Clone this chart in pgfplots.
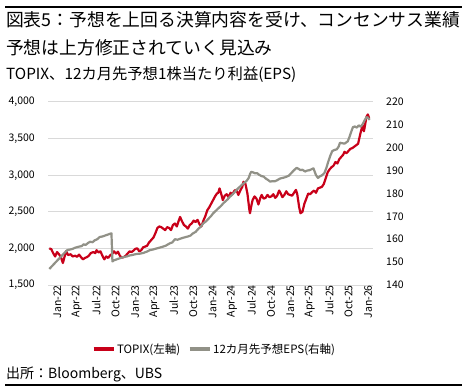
\documentclass[border=0pt]{standalone}
\usepackage{fontspec}
\setmainfont{Noto Sans CJK JP}
\usepackage{pgfplots}
\usepackage{pgfplotstable}
\pgfplotsset{compat=1.18}
\definecolor{topixred}{RGB}{200,0,25}
\definecolor{epsgray}{RGB}{145,145,135}
\definecolor{gridgray}{RGB}{217,217,217}

\pgfplotstableread{
m v
0.0 2000
0.3 1990
0.6 1935
0.9 1890
1.2 1950
1.5 1920
1.8 1880
2.1 1800
2.4 1900
2.6 1965
2.9 1910
3.3 1920
3.6 1890
4.0 1900
4.3 1885
4.6 1915
4.9 1880
5.2 1850
5.5 1870
5.8 1880
6.1 1900
6.4 1935
6.8 1950
7.1 1935
7.3 1975
7.6 1945
7.9 1960
8.2 1900
8.5 1850
8.8 1890
9.1 1870
9.4 1905
9.7 1925
10.0 1960
10.3 1930
10.6 1955
10.9 1900
11.2 1875
11.5 1880
11.8 1900
12.1 1930
12.4 1960
12.7 1950
13.0 1970
13.3 1995
13.6 2000
13.9 1960
14.2 1975
14.5 2015
14.8 2025
15.1 2035
15.4 2080
15.8 2120
16.1 2150
16.4 2210
16.7 2280
17.0 2300
17.3 2290
17.6 2270
17.9 2250
18.2 2290
18.5 2280
18.8 2250
19.1 2320
19.4 2340
19.7 2300
20.0 2380
20.2 2430
20.5 2370
20.8 2320
21.1 2300
21.4 2270
21.7 2320
22.0 2340
22.3 2380
22.6 2360
22.9 2390
23.2 2330
23.5 2300
23.8 2380
24.1 2440
24.4 2520
24.7 2560
25.0 2610
25.3 2660
25.6 2710
25.9 2750
26.1 2760
26.3 2820
26.6 2730
26.8 2660
27.1 2720
27.4 2740
27.7 2700
28.0 2760
28.3 2740
28.6 2790
28.9 2800
29.2 2730
29.5 2790
29.8 2840
30.0 2910
30.3 2880
30.6 2750
30.9 2530
31.0 2480
31.2 2580
31.4 2660
31.7 2710
32.0 2680
32.3 2600
32.6 2690
32.8 2730
33.1 2680
33.4 2690
33.7 2730
34.0 2700
34.3 2710
34.6 2740
34.9 2690
35.2 2720
35.5 2790
35.7 2760
36.0 2700
36.3 2730
36.6 2780
36.9 2740
37.2 2730
37.5 2720
37.8 2760
38.1 2800
38.3 2740
38.6 2560
38.8 2480
39.1 2500
39.4 2610
39.7 2680
40.0 2750
40.3 2740
40.6 2770
40.9 2790
41.2 2760
41.5 2820
41.8 2830
42.1 2840
42.4 2880
42.7 2960
43.0 3040
43.3 3080
43.6 3110
43.9 3130
44.2 3180
44.5 3160
44.8 3220
45.1 3250
45.4 3280
45.6 3320
45.9 3300
46.2 3330
46.5 3360
46.8 3370
47.1 3390
47.4 3410
47.7 3430
48.0 3550
48.2 3620
48.4 3680
48.6 3600
48.8 3700
49.0 3800
49.2 3830
49.4 3780
}\topixdata

\pgfplotstableread{
m v
0.0 147
0.5 148.5
1.0 150
1.5 151.5
2.0 153
2.5 154.5
2.8 155.3
3.2 155.5
3.6 155.8
4.0 156.3
4.5 156.7
5.0 157
5.3 157.8
5.6 157.5
6.0 158.4
6.3 158.9
6.7 158.7
7.0 159.5
7.4 160
7.8 161
8.2 161.2
8.6 161.6
9.0 162
9.3 162.3
9.6 162.6
9.75 150.3
10.0 150.8
10.4 151.2
10.8 151.6
11.2 152
11.6 152.3
12.0 152.5
12.4 152.9
12.8 153.1
13.2 153.4
13.6 153.6
14.0 153.7
14.5 154
15.0 154.5
15.5 155.2
16.0 155.5
16.6 156
17.0 156.3
17.6 156.8
18.0 157.2
18.6 158.2
19.0 158.6
19.4 160
19.8 159.8
20.2 160.2
20.6 160.6
21.0 160.9
21.4 161.2
21.8 161.6
22.2 162.6
22.6 163.2
23.0 164.5
23.4 165.5
23.8 167
24.2 167.8
24.6 169
25.0 170.2
25.3 171.3
25.7 172.4
26.1 173.5
26.5 174.5
26.9 175.8
27.3 176.8
27.6 177.6
27.9 178.6
28.3 179.6
28.6 180.5
28.9 181.5
29.3 182.6
29.7 183.7
30.1 184.6
30.5 185.6
30.8 186.8
31.0 188.5
31.2 189.5
31.5 189.2
31.8 188.8
32.1 188.9
32.4 188.2
32.8 187.6
33.1 187.4
33.5 186.4
33.8 185.9
34.1 185.2
34.5 185.4
34.8 185.3
35.2 185.8
35.6 186.5
36.0 186.8
36.3 187
36.6 187.3
37.0 187.8
37.4 189
37.8 190.2
38.2 191.2
38.5 190.8
38.8 190.2
39.1 190.4
39.5 189.6
39.8 190
40.2 190.2
40.5 190.6
40.8 191
41.0 189.5
41.2 188
41.5 186.8
41.8 187.5
42.1 187.9
42.5 189
42.8 191.2
43.1 194
43.4 196.5
43.7 198.5
44.0 199
44.4 199.3
44.7 200.5
44.9 202.2
45.2 202
45.6 201.8
45.9 202.4
46.1 202.8
46.4 205
46.7 207.5
46.9 209
47.2 209.3
47.5 208.8
47.8 209.8
48.1 209.2
48.4 210.3
48.7 212
49.0 213.4
49.2 213.2
49.5 212.2
}\epsdata

\newcommand\ticksize{\fontsize{10.5bp}{12bp}\selectfont}

\begin{document}
\begin{tikzpicture}
\useasboundingbox (0bp,0bp) rectangle (467bp,390bp);
\draw[line width=1.3bp] (5bp,383bp) -- (462bp,383bp);
\draw[line width=1.3bp] (5bp,5bp) -- (462bp,5bp);
\node[anchor=base west, inner sep=0pt, font=\fontsize{17.8bp}{20bp}\selectfont] at (6bp,363bp) {図表5：予想を上回る決算内容を受け、コンセンサス業績};
\node[anchor=base west, inner sep=0pt, font=\fontsize{17.8bp}{20bp}\selectfont] at (6bp,335bp) {予想は上方修正されていく見込み};
\node[anchor=base west, inner sep=0pt, font=\fontsize{15.3bp}{17bp}\selectfont] at (6bp,310bp) {TOPIX、12カ月先予想1株当たり利益(EPS)};
\node[anchor=base west, inner sep=0pt, font=\fontsize{14bp}{16bp}\selectfont] at (6bp,12bp) {出所：Bloomberg、UBS};

\begin{axis}[
  at={(48bp,105bp)}, anchor=south west,
  scale only axis, width=325bp, height=183bp,
  xmin=-0.2, xmax=50, ymin=1500, ymax=4000,
  axis line style={draw=none},
  major tick length=0pt,
  ytick={1500,2000,...,4000},
  ymajorgrids, grid style={gridgray, line width=1bp},
  xtick={0,3,...,48},
  xticklabels={Jan-22,Apr-22,Jul-22,Oct-22,Jan-23,Apr-23,Jul-23,Oct-23,Jan-24,Apr-24,Jul-24,Oct-24,Jan-25,Apr-25,Jul-25,Oct-25,Jan-26},
  xticklabel style={rotate=90, anchor=east, inner sep=0pt, yshift=-8bp, font=\ticksize},
  yticklabel style={anchor=east, inner sep=0pt, xshift=-13bp, font=\ticksize},
  /pgf/number format/.cd, assume math mode=true, 1000 sep={,},
  /pgfplots/.cd,
  legend columns=2,
  legend style={at={(0.511,-0.35)}, anchor=center, draw=none, fill=none,
    font=\fontsize{11.5bp}{13bp}\selectfont,
    nodes={inner sep=1.5bp},
    /tikz/every even column/.append style={column sep=6bp}},
  legend image code/.code={\draw[#1, line width=4bp] (0bp,0bp) -- (20bp,0bp);},
]
\addplot[topixred, line width=2.2bp, line join=round] table[x=m, y=v] {\topixdata};
\addlegendentry{TOPIX(左軸)}
\addlegendimage{epsgray, line width=2bp}
\addlegendentry{12カ月先予想EPS(右軸)}
\end{axis}

\begin{axis}[
  at={(48bp,105bp)}, anchor=south west,
  scale only axis, width=325bp, height=183bp,
  xmin=-0.2, xmax=50, ymin=140, ymax=220,
  axis y line*=right, axis x line=none,
  axis line style={draw=none},
  major tick length=0pt,
  ytick={140,150,...,220},
  yticklabel style={anchor=west, inner sep=0pt, xshift=13bp, font=\ticksize},
  /pgf/number format/.cd, assume math mode=true,
  /pgfplots/.cd,
]
\addplot[epsgray, line width=2.2bp, line join=round] table[x=m, y=v] {\epsdata};
\end{axis}
\end{tikzpicture}
\end{document}
